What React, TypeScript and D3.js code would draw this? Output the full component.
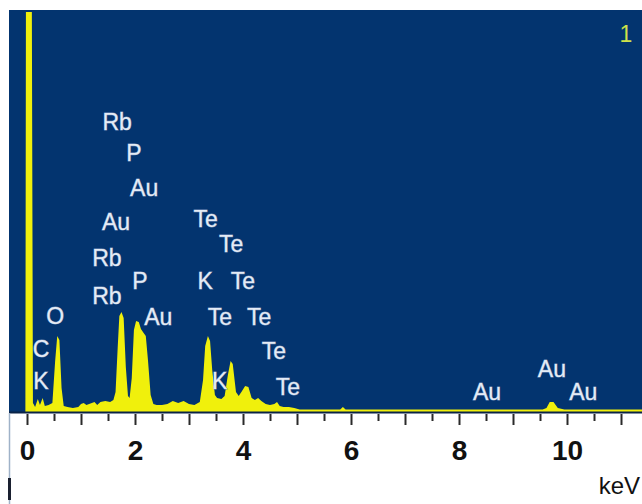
import React, { useEffect, useRef } from "react";
import * as d3 from "d3";

// EDS spectrum: [keV, counts]
const spectrum: [number, number][] = [
  [-0.03, 0], [-0.02, 401], [0.09, 401], [0.11, 9], [0.15, 5], [0.2, 13], [0.24, 7],
  [0.29, 14], [0.33, 6], [0.4, 7], [0.47, 9], [0.52, 50], [0.56, 76], [0.6, 72],
  [0.64, 24], [0.68, 6], [0.75, 5], [0.85, 4], [0.95, 5], [1.0, 8], [1.05, 9],
  [1.1, 7], [1.2, 9], [1.25, 10], [1.3, 7], [1.36, 10], [1.45, 11], [1.54, 10],
  [1.6, 12], [1.64, 20], [1.68, 65], [1.71, 96], [1.75, 100], [1.79, 94], [1.83, 45],
  [1.87, 16], [1.9, 14], [1.94, 34], [1.98, 82], [2.02, 91], [2.07, 90], [2.11, 83],
  [2.16, 79], [2.2, 76], [2.24, 52], [2.29, 17], [2.34, 8], [2.4, 7], [2.5, 7],
  [2.6, 8], [2.7, 11], [2.8, 9], [2.9, 11], [3.0, 8], [3.1, 7], [3.2, 10], [3.26, 32],
  [3.3, 66], [3.35, 76], [3.39, 71], [3.43, 42], [3.48, 17], [3.52, 14], [3.6, 13],
  [3.66, 16], [3.72, 37], [3.77, 51], [3.81, 48], [3.87, 20], [3.92, 16], [3.97, 20],
  [4.04, 26], [4.1, 25], [4.16, 14], [4.22, 12], [4.28, 14], [4.34, 11], [4.42, 8],
  [4.5, 7], [4.58, 8], [4.63, 10], [4.68, 6], [4.75, 5], [4.85, 5], [4.95, 4],
  [5.05, 2.5], [5.8, 2.5], [5.85, 5], [5.9, 2.5], [9.55, 2.5], [9.62, 4], [9.68, 10],
  [9.75, 10], [9.83, 4], [9.95, 2.5], [11.5, 2.5],
];

// peak annotations: [label, keV, height]
const peakLabels: [string, number, number][] = [
  ["Rb", 1.67, 290], ["P", 1.98, 259], ["Au", 2.17, 224], ["Au", 1.65, 190],
  ["Rb", 1.48, 154], ["P", 2.09, 131], ["Rb", 1.48, 116], ["Au", 2.43, 95],
  ["O", 0.52, 96], ["C", 0.26, 63], ["K", 0.26, 31], ["Te", 3.31, 193],
  ["Te", 3.78, 168], ["K", 3.3, 131], ["Te", 4.0, 131], ["Te", 3.57, 95],
  ["Te", 4.3, 95], ["Te", 4.57, 61], ["K", 3.57, 31], ["Te", 4.83, 25],
  ["Au", 8.52, 20], ["Au", 9.72, 43], ["Au", 10.3, 20],
];

const minorTicks = [0, 0.5, 1, 1.5, 2, 2.5, 3, 3.5, 4, 4.5, 5, 5.5, 6, 6.5, 7, 7.5, 8, 8.5, 9, 9.5, 10, 10.5, 11];
const tickLabels = [0, 2, 4, 6, 8, 10];

export default function App() {
  const ref = useRef<SVGSVGElement>(null);

  useEffect(() => {
    const node = ref.current;
    if (!node) return;
    const w = 642, h = 504;
    const plot = { l: 9, t: 10, r: 642, b: 413 };

    const svg = d3.select(node);
    svg.attr("viewBox", `0 0 ${w} ${h}`).selectAll("*").remove();

    const x = d3.scaleLinear().domain([0, 10]).range([27, 567]);
    const y = d3.scaleLinear().domain([0, 400]).range([412, 12]).clamp(true);

    svg.append("rect").attr("width", w).attr("height", h).attr("fill", "#fff");

    svg.append("defs").append("clipPath").attr("id", "plotclip")
      .append("rect")
      .attr("x", plot.l).attr("y", plot.t)
      .attr("width", plot.r - plot.l).attr("height", plot.b - plot.t);

    // blue panel
    svg.append("rect")
      .attr("x", plot.l).attr("y", plot.t)
      .attr("width", plot.r - plot.l).attr("height", plot.b - plot.t)
      .attr("fill", "#03346f");

    const area = d3.area<[number, number]>()
      .x(d => x(d[0]))
      .y0(y(0))
      .y1(d => y(d[1]));

    svg.append("path")
      .datum(spectrum)
      .attr("clip-path", "url(#plotclip)")
      .attr("d", area)
      .attr("fill", "#f0f00c");

    // dark edge under the panel
    svg.append("line")
      .attr("x1", plot.l).attr("x2", plot.r)
      .attr("y1", plot.b - 0.5).attr("y2", plot.b - 0.5)
      .attr("stroke", "#0a2347").attr("stroke-width", 2);

    // left border of the axis strip
    svg.append("line")
      .attr("x1", 9.5).attr("x2", 9.5).attr("y1", plot.b).attr("y2", h)
      .attr("stroke", "#9fb2c8").attr("stroke-width", 1.5);
    svg.append("rect").attr("x", 8).attr("y", 478).attr("width", 3).attr("height", 22).attr("fill", "#1a2030");

    // peak labels
    svg.append("g")
      .selectAll("text")
      .data(peakLabels)
      .enter()
      .append("text")
      .attr("x", d => x(d[1]))
      .attr("y", d => y(d[2]))
      .attr("dy", "0.36em")
      .attr("text-anchor", "middle")
      .attr("font-family", "Liberation Sans, Arial, sans-serif")
      .attr("font-size", 23)
      .attr("fill", "#e4ebf5")
      .attr("stroke", "#7890b8")
      .attr("stroke-width", 0.8)
      .attr("paint-order", "stroke")
      .text(d => d[0]);

    // spectrum number
    svg.append("text")
      .attr("x", 626).attr("y", 42)
      .attr("text-anchor", "middle")
      .attr("font-family", "Liberation Sans, Arial, sans-serif")
      .attr("font-size", 23)
      .attr("fill", "#cfe24a")
      .text("1");

    // x axis
    const ax = svg.append("g")
      .attr("transform", `translate(0,${plot.b + 1})`)
      .call(
        d3.axisBottom(x)
          .tickValues(minorTicks)
          .tickSize(7)
          .tickFormat(d => (tickLabels.includes(+d) ? String(d) : ""))
      );
    ax.select(".domain").remove();
    ax.selectAll(".tick line")
      .attr("stroke", "#2a2a2a")
      .attr("stroke-width", 2)
      .attr("y2", (d: any) => (Number.isInteger(d) ? 11 : 7));
    ax.selectAll(".tick text")
      .attr("y", 46)
      .attr("dy", 0)
      .attr("fill", "#111")
      .attr("font-family", "Liberation Sans Narrow, Arial Narrow, sans-serif")
      .attr("font-weight", "bold")
      .attr("font-size", 28);

    svg.append("text")
      .attr("x", 640).attr("y", 494)
      .attr("text-anchor", "end")
      .attr("font-family", "Liberation Sans, Arial, sans-serif")
      .attr("font-size", 24)
      .attr("fill", "#111")
      .text("keV");
  }, []);

  return (
    <svg
      ref={ref}
      width={642}
      height={504}
      style={{ position: "absolute", left: 0, top: 0, display: "block" }}
    />
  );
}
